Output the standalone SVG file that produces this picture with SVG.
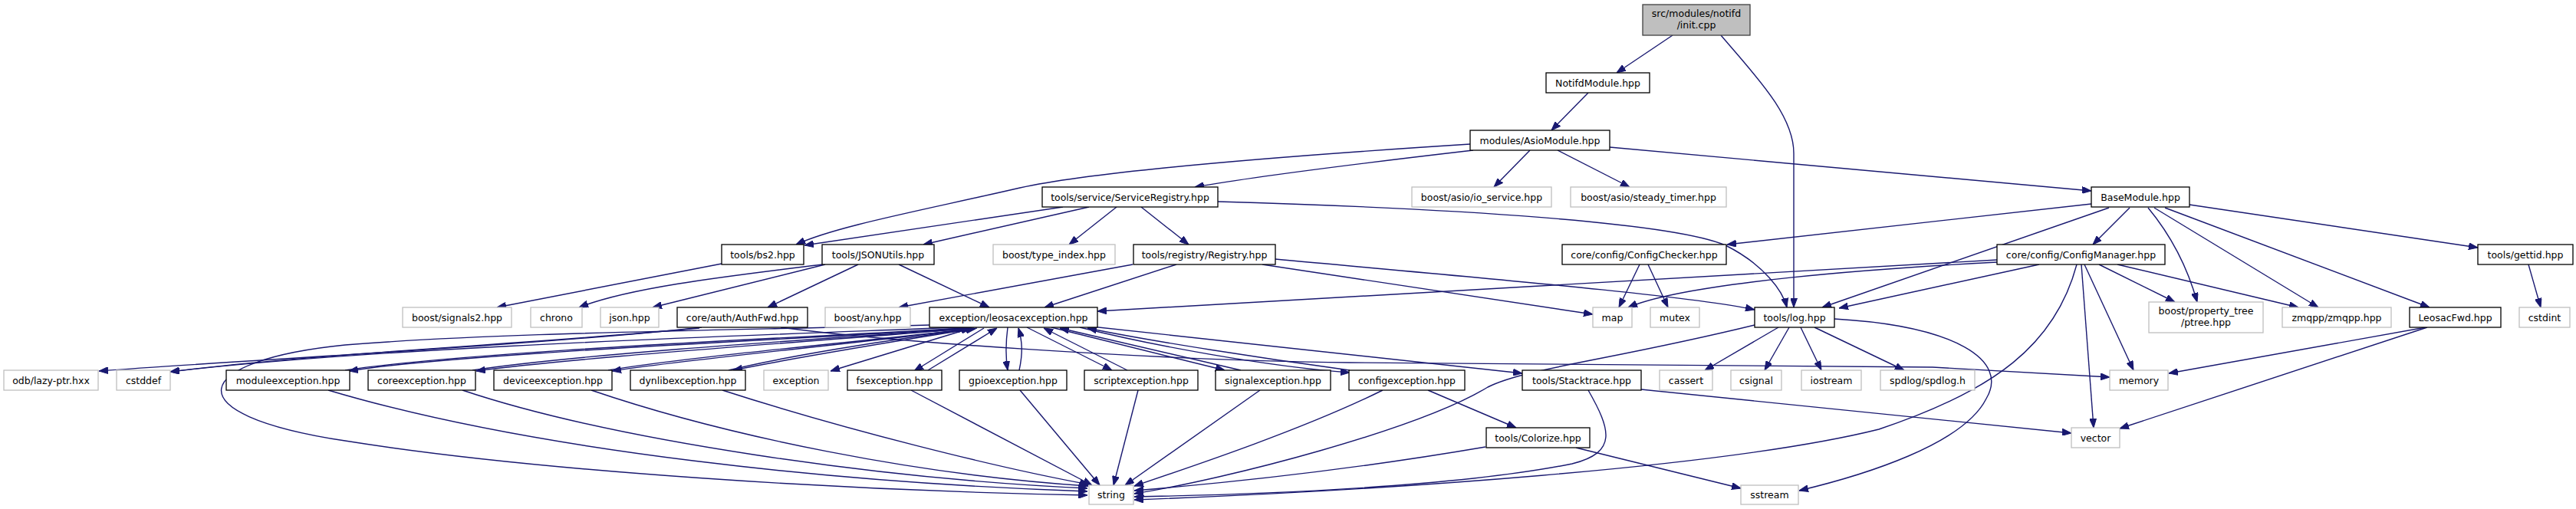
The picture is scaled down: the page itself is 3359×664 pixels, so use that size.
<svg xmlns="http://www.w3.org/2000/svg" width="3359" height="664" viewBox="0 0 3359 664">
<defs>
<marker id="ah" viewBox="0 0 12 9" refX="12" refY="4.5" markerWidth="12" markerHeight="9" markerUnits="userSpaceOnUse" orient="auto">
<path d="M0,0 L12,4.5 L0,9 z" fill="#191970" stroke="#191970" stroke-width="1"/>
</marker>
<style>
.n rect{fill:#ffffff;stroke:#000000;stroke-width:1.3}
.g rect{fill:#ffffff;stroke:#bfbfbf;stroke-width:1.3}
.r rect{fill:#bfbfbf;stroke:#404040;stroke-width:1.3}
text{font-family:"DejaVu Sans","Liberation Sans",sans-serif;font-size:12.5px;fill:#000000;text-anchor:middle}
#edges path{fill:none;stroke:#191970;stroke-width:1.4;marker-end:url(#ah)}
</style>
</defs>
<rect width="3359" height="664" fill="#ffffff"/>
<g id="edges">
<path d="M2181,46 L2108,95"/>
<path d="M2244,46 C2290,100 2339,150 2339,200 L2339,401"/>
<path d="M2071,121 L2023,170"/>
<path d="M1917,188 C1650,205 1420,225 1330,245 C1200,275 1090,295 1038,319"/>
<path d="M1921,196 C1800,210 1650,228 1558,244"/>
<path d="M1995,196 L1948,244"/>
<path d="M2031,196 L2125,244"/>
<path d="M2099,192 L2727,249"/>
<path d="M1386,270 L1049,320"/>
<path d="M1420,270 L1204,319"/>
<path d="M1456,270 L1394,319"/>
<path d="M1488,270 L1550,319"/>
<path d="M1588,263 C1900,272 2180,290 2250,320 C2300,345 2325,380 2330,401"/>
<path d="M2727,266 L2252,319"/>
<path d="M2777,271 L2729,319"/>
<path d="M2750,271 L2376,401"/>
<path d="M2801,271 C2825,300 2850,340 2865,394"/>
<path d="M2809,271 L3023,401"/>
<path d="M2823,271 L3168,401"/>
<path d="M2855,267 L3231,323"/>
<path d="M3297,345 L3313,401"/>
<path d="M2604,339 L1431,406"/>
<path d="M2604,342 C2450,350 2200,368 2123,401"/>
<path d="M2659,345 L2398,402"/>
<path d="M2737,345 L2836,394"/>
<path d="M2761,345 L2997,401"/>
<path d="M2718,345 L2782,483"/>
<path d="M2714,345 L2730,558"/>
<path d="M2708,345 C2680,450 2600,510 2450,560 C2250,610 1800,640 1479,652"/>
<path d="M1477,345 L1172,401"/>
<path d="M1534,345 L1362,401"/>
<path d="M1646,345 L2077,410"/>
<path d="M1663,338 C1900,360 2200,385 2288,404"/>
<path d="M2138,345 L2111,401"/>
<path d="M2149,345 L2175,401"/>
<path d="M1072,345 C950,360 820,375 755,401"/>
<path d="M1076,345 L851,401"/>
<path d="M1119,345 L1001,401"/>
<path d="M1172,345 L1290,401"/>
<path d="M941,344 L648,401"/>
<path d="M2319,427 L2223,483"/>
<path d="M2333,427 L2301,483"/>
<path d="M2348,427 L2375,483"/>
<path d="M2366,427 L2483,483"/>
<path d="M2392,416 C2550,425 2620,470 2590,520 C2560,580 2430,620 2346,640"/>
<path d="M2288,424 C2100,470 1990,480 1940,505 C1850,560 1600,625 1479,644"/>
<path d="M3163,427 L2828,487"/>
<path d="M3165,427 L2764,559"/>
<path d="M2140,508 L2701,565"/>
<path d="M2071,509 C2100,560 2110,590 2050,605 C1900,635 1650,645 1479,648"/>
<path d="M1803,509 C1700,560 1550,610 1479,634"/>
<path d="M1862,509 L1977,558"/>
<path d="M1937,583 C1750,615 1600,630 1479,640"/>
<path d="M2055,584 L2270,637"/>
<path d="M1018,427 C1150,445 1500,470 1760,473 L2520,479 L2751,492"/>
<path d="M915,427 C700,450 350,468 129,484"/>
<path d="M912,428 C700,448 400,462 222,485"/>
<path d="M1250,427 C1000,437 500,452 222,485"/>
<path d="M1262,428 C1100,440 600,460 455,484"/>
<path d="M450,483 C620,457 1100,438 1256,428"/>
<path d="M1266,428 C1100,443 760,465 621,484"/>
<path d="M616,483 C760,461 1100,440 1260,429"/>
<path d="M1270,428 C1150,445 900,468 798,484"/>
<path d="M793,483 C900,465 1150,443 1266,429"/>
<path d="M1274,428 C1150,448 1020,470 956,483"/>
<path d="M950,483 C1020,466 1150,444 1272,429"/>
<path d="M1263,429 L1083,484"/>
<path d="M1283,428 L1192,484"/>
<path d="M1210,483 L1300,428"/>
<path d="M1314,427 C1311,450 1311,465 1314,483"/>
<path d="M1329,483 C1334,460 1333,445 1328,428"/>
<path d="M1339,427 L1450,483"/>
<path d="M1470,483 L1361,428"/>
<path d="M1371,427 L1597,483"/>
<path d="M1618,483 L1382,428"/>
<path d="M1408,427 C1500,450 1650,478 1760,486"/>
<path d="M1760,483 C1650,468 1500,445 1418,428"/>
<path d="M1414,425 L1985,487"/>
<path d="M1212,424 C900,432 650,434 450,450 C250,470 220,540 450,575 C700,615 1100,640 1418,646"/>
<path d="M428,509 C700,590 1100,630 1418,641"/>
<path d="M603,509 C800,575 1150,625 1418,637"/>
<path d="M771,509 C950,570 1200,620 1419,634"/>
<path d="M942,509 C1100,560 1300,610 1420,632"/>
<path d="M1188,509 L1424,633"/>
<path d="M1330,509 L1434,633"/>
<path d="M1484,509 L1452,633"/>
<path d="M1643,509 L1467,633"/>
</g>
<g id="n_init" class="r"><rect x="2142" y="6" width="140" height="40"/><text x="2212" y="21.5">src/modules/notifd</text><text x="2212" y="37">/init.cpp</text></g>
<g id="n_notifd" class="n"><rect x="2016" y="95" width="135" height="26"/><text x="2083.5" y="112.5">NotifdModule.hpp</text></g>
<g id="n_asio" class="n"><rect x="1917" y="170" width="182" height="26"/><text x="2008" y="187.5">modules/AsioModule.hpp</text></g>
<g id="n_servreg" class="n"><rect x="1359" y="244" width="229" height="26"/><text x="1473.5" y="261.5">tools/service/ServiceRegistry.hpp</text></g>
<g id="n_iosvc" class="g"><rect x="1841" y="244" width="182" height="26"/><text x="1932" y="261.5">boost/asio/io_service.hpp</text></g>
<g id="n_steady" class="g"><rect x="2048" y="244" width="203" height="26"/><text x="2149.5" y="261.5">boost/asio/steady_timer.hpp</text></g>
<g id="n_basemod" class="n"><rect x="2727" y="244" width="128" height="26"/><text x="2791" y="261.5">BaseModule.hpp</text></g>
<g id="n_bs2" class="n"><rect x="941" y="319" width="107" height="26"/><text x="994.5" y="336.5">tools/bs2.hpp</text></g>
<g id="n_json" class="n"><rect x="1072" y="319" width="146" height="26"/><text x="1145" y="336.5">tools/JSONUtils.hpp</text></g>
<g id="n_typeidx" class="g"><rect x="1295" y="319" width="159" height="26"/><text x="1374.5" y="336.5">boost/type_index.hpp</text></g>
<g id="n_registry" class="n"><rect x="1478" y="319" width="185" height="26"/><text x="1570.5" y="336.5">tools/registry/Registry.hpp</text></g>
<g id="n_cfgcheck" class="n"><rect x="2037" y="319" width="214" height="26"/><text x="2144" y="336.5">core/config/ConfigChecker.hpp</text></g>
<g id="n_cfgmgr" class="n"><rect x="2604" y="319" width="219" height="26"/><text x="2713.5" y="336.5">core/config/ConfigManager.hpp</text></g>
<g id="n_gettid" class="n"><rect x="3231" y="319" width="124" height="26"/><text x="3293" y="336.5">tools/gettid.hpp</text></g>
<g id="n_signals2" class="g"><rect x="525" y="401" width="142" height="26"/><text x="596" y="418.5">boost/signals2.hpp</text></g>
<g id="n_chrono" class="g"><rect x="692" y="401" width="67" height="26"/><text x="725.5" y="418.5">chrono</text></g>
<g id="n_jsonhpp" class="g"><rect x="783" y="401" width="76" height="26"/><text x="821" y="418.5">json.hpp</text></g>
<g id="n_authfwd" class="n"><rect x="883" y="401" width="170" height="26"/><text x="968" y="418.5">core/auth/AuthFwd.hpp</text></g>
<g id="n_any" class="g"><rect x="1076" y="401" width="111" height="26"/><text x="1131.5" y="418.5">boost/any.hpp</text></g>
<g id="n_leosacex" class="n"><rect x="1212" y="401" width="219" height="26"/><text x="1321.5" y="418.5">exception/leosacexception.hpp</text></g>
<g id="n_map" class="g"><rect x="2077" y="401" width="51" height="26"/><text x="2102.5" y="418.5">map</text></g>
<g id="n_mutex" class="g"><rect x="2152" y="401" width="64" height="26"/><text x="2184" y="418.5">mutex</text></g>
<g id="n_log" class="n"><rect x="2288" y="401" width="104" height="26"/><text x="2340" y="418.5">tools/log.hpp</text></g>
<g id="n_ptree" class="g"><rect x="2802" y="394" width="149" height="40"/><text x="2876.5" y="409.5">boost/property_tree</text><text x="2876.5" y="425">/ptree.hpp</text></g>
<g id="n_zmqpp" class="g"><rect x="2976" y="401" width="142" height="26"/><text x="3047" y="418.5">zmqpp/zmqpp.hpp</text></g>
<g id="n_leosacfwd" class="n"><rect x="3142" y="401" width="119" height="26"/><text x="3201.5" y="418.5">LeosacFwd.hpp</text></g>
<g id="n_cstdint" class="g"><rect x="3285" y="401" width="66" height="26"/><text x="3318" y="418.5">cstdint</text></g>
<g id="n_odb" class="g"><rect x="5" y="483" width="123" height="26"/><text x="66.5" y="500.5">odb/lazy-ptr.hxx</text></g>
<g id="n_cstddef" class="g"><rect x="152" y="483" width="70" height="26"/><text x="187" y="500.5">cstddef</text></g>
<g id="n_modex" class="n"><rect x="295" y="483" width="161" height="26"/><text x="375.5" y="500.5">moduleexception.hpp</text></g>
<g id="n_coreex" class="n"><rect x="480" y="483" width="140" height="26"/><text x="550" y="500.5">coreexception.hpp</text></g>
<g id="n_devex" class="n"><rect x="644" y="483" width="154" height="26"/><text x="721" y="500.5">deviceexception.hpp</text></g>
<g id="n_dynex" class="n"><rect x="822" y="483" width="150" height="26"/><text x="897" y="500.5">dynlibexception.hpp</text></g>
<g id="n_exception" class="g"><rect x="996" y="483" width="84" height="26"/><text x="1038" y="500.5">exception</text></g>
<g id="n_fsex" class="n"><rect x="1105" y="483" width="123" height="26"/><text x="1166.5" y="500.5">fsexception.hpp</text></g>
<g id="n_gpioex" class="n"><rect x="1251" y="483" width="140" height="26"/><text x="1321" y="500.5">gpioexception.hpp</text></g>
<g id="n_scriptex" class="n"><rect x="1414" y="483" width="148" height="26"/><text x="1488" y="500.5">scriptexception.hpp</text></g>
<g id="n_sigex" class="n"><rect x="1585" y="483" width="150" height="26"/><text x="1660" y="500.5">signalexception.hpp</text></g>
<g id="n_cfgex" class="n"><rect x="1759" y="483" width="151" height="26"/><text x="1834.5" y="500.5">configexception.hpp</text></g>
<g id="n_stack" class="n"><rect x="1985" y="483" width="155" height="26"/><text x="2062.5" y="500.5">tools/Stacktrace.hpp</text></g>
<g id="n_cassert" class="g"><rect x="2164" y="483" width="69" height="26"/><text x="2198.5" y="500.5">cassert</text></g>
<g id="n_csignal" class="g"><rect x="2257" y="483" width="66" height="26"/><text x="2290" y="500.5">csignal</text></g>
<g id="n_iostream" class="g"><rect x="2349" y="483" width="78" height="26"/><text x="2388" y="500.5">iostream</text></g>
<g id="n_spdlog" class="g"><rect x="2452" y="483" width="123" height="26"/><text x="2513.5" y="500.5">spdlog/spdlog.h</text></g>
<g id="n_memory" class="g"><rect x="2751" y="483" width="76" height="26"/><text x="2789" y="500.5">memory</text></g>
<g id="n_colorize" class="n"><rect x="1938" y="558" width="135" height="26"/><text x="2005.5" y="575.5">tools/Colorize.hpp</text></g>
<g id="n_vector" class="g"><rect x="2701" y="558" width="63" height="26"/><text x="2732.5" y="575.5">vector</text></g>
<g id="n_string" class="g"><rect x="1420" y="633" width="58" height="25"/><text x="1449" y="650">string</text></g>
<g id="n_sstream" class="g"><rect x="2270" y="633" width="75" height="25"/><text x="2307.5" y="650">sstream</text></g>
</svg>
